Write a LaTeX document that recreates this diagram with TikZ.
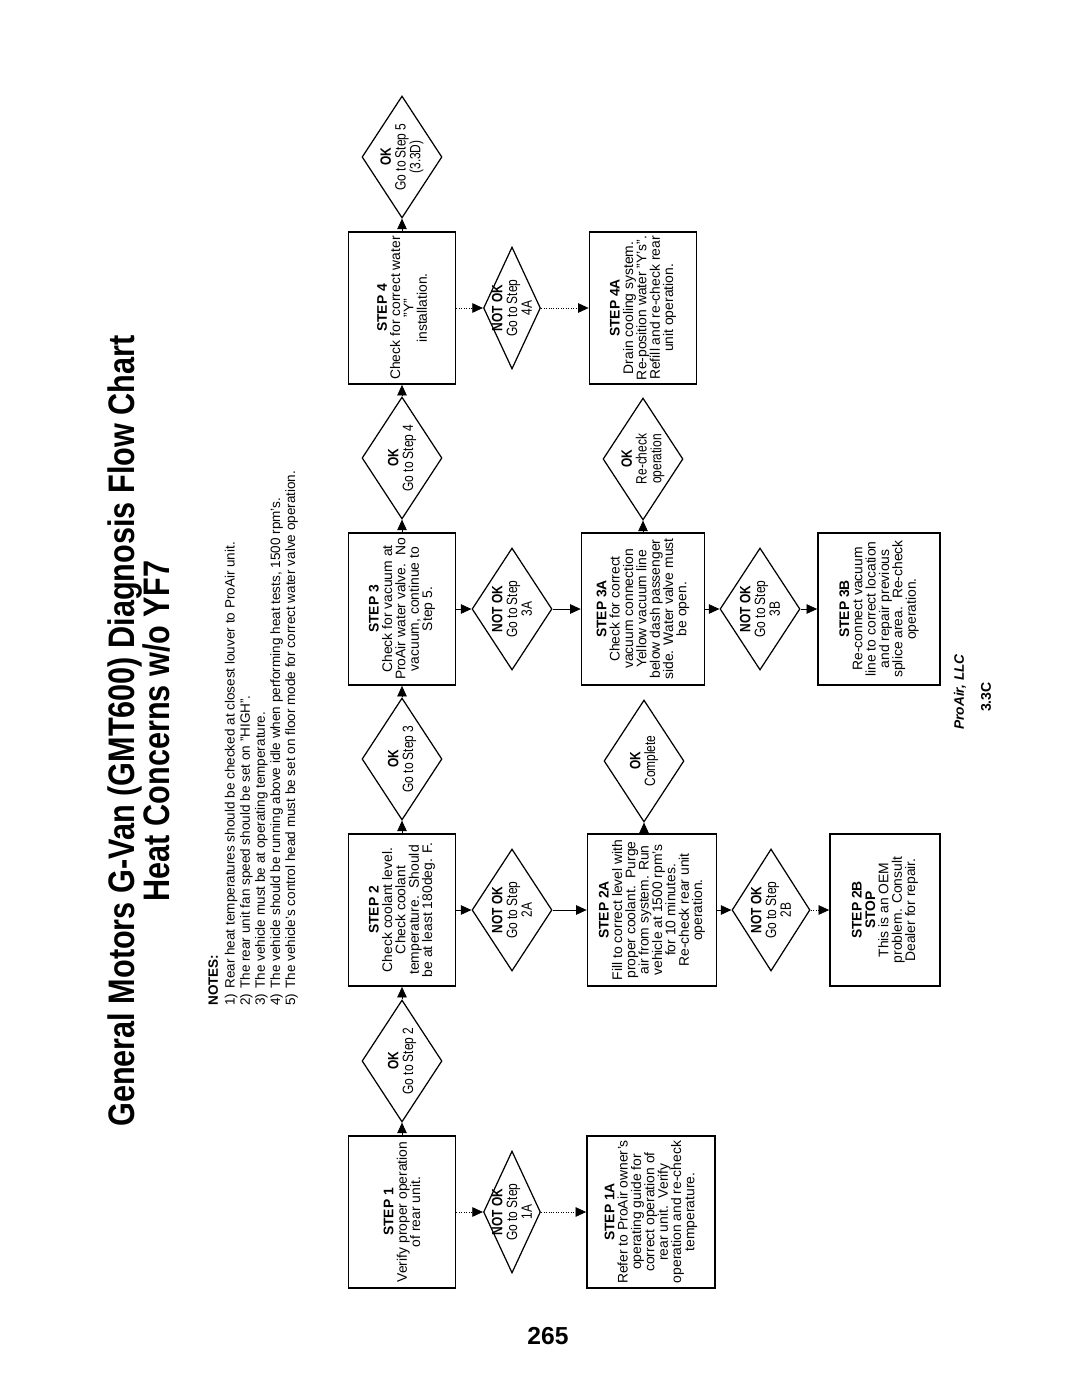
\documentclass[tikz,border=0pt]{standalone}
\usepackage{fontspec}
\setmainfont{Liberation Sans}
\newfontfamily\narrowfont{Liberation Sans}[FakeStretch=0.8]
\newfontfamily\titlefont{Liberation Sans}[FakeStretch=0.83]
\usetikzlibrary{shapes.geometric,arrows.meta}

\newcommand{\boxfont}{\fontsize{7.9}{7.6}\selectfont}
\newcommand{\diafont}{\narrowfont\fontsize{8.5}{8.4}\selectfont}

\begin{document}
\begin{tikzpicture}[x=0.2mm, y=-0.2mm,
  stepbox/.style={draw, line width=1pt, rotate=90, minimum width=30.4mm,
    minimum height=21.4mm, align=center, inner sep=1pt, font=\boxfont},
  okdia/.style={draw, diamond, line width=0.7pt, rotate=90,
    minimum width=24.4mm, minimum height=16mm, inner sep=0pt},
  notdia/.style={okdia, minimum height=11.4mm},
  dlabel/.style={rotate=90, align=center, inner sep=0pt, font=\diafont},
  flow/.style={-{Triangle[length=2.1mm,width=1.9mm]}, line width=0.4pt},
  dflow/.style={flow, densely dotted}
]
  \useasboundingbox (0,0) rectangle (1071,1386);

  \node[rotate=90, align=center, inner sep=0pt,
    font=\titlefont\bfseries\fontsize{21}{20}\selectfont] (title) at (139,731)
    {General Motors G-Van (GMT600) Diagnosis Flow Chart\\Heat Concerns w/o YF7};

  \node[rotate=90, anchor=north west, align=left, inner sep=0pt,
    font=\fontsize{7.7}{8.6}\selectfont] (notes) at (208,1006) {%
    \textbf{NOTES:}\\[1pt]
    \makebox[3.4mm][l]{1)}Rear heat temperatures should be checked at closest louver to ProAir unit.\\
    \makebox[3.4mm][l]{2)}The rear unit fan speed should be set on "HIGH".\\
    \makebox[3.4mm][l]{3)}The vehicle must be at operating temperature.\\
    \makebox[3.4mm][l]{4)}The vehicle should be running above idle when performing heat tests, 1500 rpm's.\\
    \makebox[3.4mm][l]{5)}The vehicle's control head must be set on floor mode for correct water valve operation.};

  \node[stepbox] (s1) at (402,1212) {\textbf{STEP 1}\\Verify proper operation\\of rear unit.};
  \node[okdia] (ok2) at (402,1061) {};
  \node[dlabel] (ok2txt) at (ok2) {\textbf{OK}\\Go to Step 2};
  \node[stepbox] (s2) at (402,910) {\textbf{STEP 2}\\Check coolant level.\\Check coolant\\temperature.\ \ Should\\be at least 180deg. F.};
  \node[okdia] (ok3) at (402,759) {};
  \node[dlabel] (ok3txt) at (ok3) {\textbf{OK}\\Go to Step 3};
  \node[stepbox] (s3) at (402,609) {\textbf{STEP 3}\\Check for vacuum at\\ProAir water valve.\ \ No\\vacuum, continue to\\Step 5.};
  \node[okdia] (ok4) at (402,458) {};
  \node[dlabel] (ok4txt) at (ok4) {\textbf{OK}\\Go to Step 4};
  \node[stepbox] (s4) at (402,308) {\textbf{STEP 4}\\Check for correct water\\"Y"\\installation.};
  \node[okdia] (ok5) at (402,157) {};
  \node[dlabel] (ok5txt) at (ok5) {\textbf{OK}\\Go to Step 5\\(3.3D)};

  \node[notdia] (no1a) at (512,1212) {};
  \node[dlabel] (no1atxt) at (no1a) {\textbf{NOT OK}\\Go to Step\\1A};
  \node[okdia] (no2a) at (512,910) {};
  \node[dlabel] (no2atxt) at (no2a) {\textbf{NOT OK}\\Go to Step\\2A};
  \node[okdia] (no3a) at (512,609) {};
  \node[dlabel] (no3atxt) at (no3a) {\textbf{NOT OK}\\Go to Step\\3A};
  \node[notdia] (no4a) at (512,308) {};
  \node[dlabel] (no4atxt) at (no4a) {\textbf{NOT OK}\\Go to Step\\4A};

  \node[stepbox, minimum height=25.6mm] (s1a) at (651,1212) {\textbf{STEP 1A}\\Refer to ProAir owner's\\operating guide for\\correct operation of\\rear unit.\ \ Verify\\operation and re-check\\temperature.};
  \node[stepbox, minimum height=25.8mm] (s2a) at (652,910) {\textbf{STEP 2A}\\Fill to correct level with\\proper coolant.\ \ Purge\\air from system. Run\\vehicle at 1500 rpm's\\for 10 minutes.\\Re-check rear unit\\operation.};
  \node[okdia] (okc) at (644,761) {};
  \node[dlabel] (okctxt) at (okc) {\textbf{OK}\\Complete};
  \node[stepbox, minimum height=24.6mm] (s3a) at (643,609) {\textbf{STEP 3A}\\Check for correct\\vacuum connection\\Yellow vacuum line\\below dash passenger\\side. Water valve must\\be open.};
  \node[okdia] (okr) at (643,459) {};
  \node[dlabel] (okrtxt) at (okr) {\textbf{OK}\\Re-check\\operation};
  \node[stepbox] (s4a) at (643,308) {\textbf{STEP 4A}\\Drain cooling system.\\Re-position water "Y's".\\Refill and re-check rear\\unit operation.};

  \node[okdia, minimum height=15.6mm] (no2b) at (771,910) {};
  \node[dlabel] (no2btxt) at (no2b) {\textbf{NOT OK}\\Go to Step\\2B};
  \node[stepbox, minimum height=22mm] (s2b) at (885,910) {\textbf{STEP 2B}\\\textbf{STOP}\\This is an OEM\\problem. Consult\\Dealer for repair.};
  \node[okdia] (no3b) at (760,609) {};
  \node[dlabel] (no3btxt) at (no3b) {\textbf{NOT OK}\\Go to Step\\3B};
  \node[stepbox, minimum height=24.4mm] (s3b) at (879,609) {\textbf{STEP 3B}\\Re-connect vacuum\\line to correct location\\and repair previous\\splice area.\ \ Re-check\\operation.};

  \node[rotate=90, font=\fontsize{7.8}{8}\selectfont\bfseries\itshape] (firm) at (960,692) {ProAir, LLC};
  \node[rotate=90, font=\fontsize{8}{8}\selectfont\bfseries] (sect) at (986,697) {3.3C};
  \node[font=\fontsize{14}{14}\selectfont\bfseries] (page) at (548,1336) {265};

  \draw[flow] (s1.east) -- (ok2.west);
  \draw[flow] (ok2.east) -- (s2.west);
  \draw[flow] (s2.east) -- (ok3.west);
  \draw[flow] (ok3.east) -- (s3.west);
  \draw[flow] (s3.east) -- (ok4.west);
  \draw[flow] (ok4.east) -- (s4.west);
  \draw[flow] (s4.east) -- (ok5.west);

  \draw[dflow] (s1.south) -- (no1a.north);
  \draw[dflow] (no1a.south) -- (s1a.north);
  \draw[flow] (s2.south) -- (no2a.north);
  \draw[flow] (no2a.south) -- (s2a.north);
  \draw[flow] (s3.south) -- (no3a.north);
  \draw[flow] (no3a.south) -- (s3a.north);
  \draw[dflow] (s4.south) -- (no4a.north);
  \draw[dflow] (no4a.south) -- (s4a.north);

  \draw[flow] (s2a.east -| okc.west) -- (okc.west);
  \draw[flow] (s3a.east -| okr.west) -- (okr.west);

  \draw[flow] (s2a.south) -- (no2b.north);
  \draw[dflow] (no2b.south) -- (s2b.north);
  \draw[flow] (s3a.south) -- (no3b.north);
  \draw[flow] (no3b.south) -- (s3b.north);
\end{tikzpicture}
\end{document}
